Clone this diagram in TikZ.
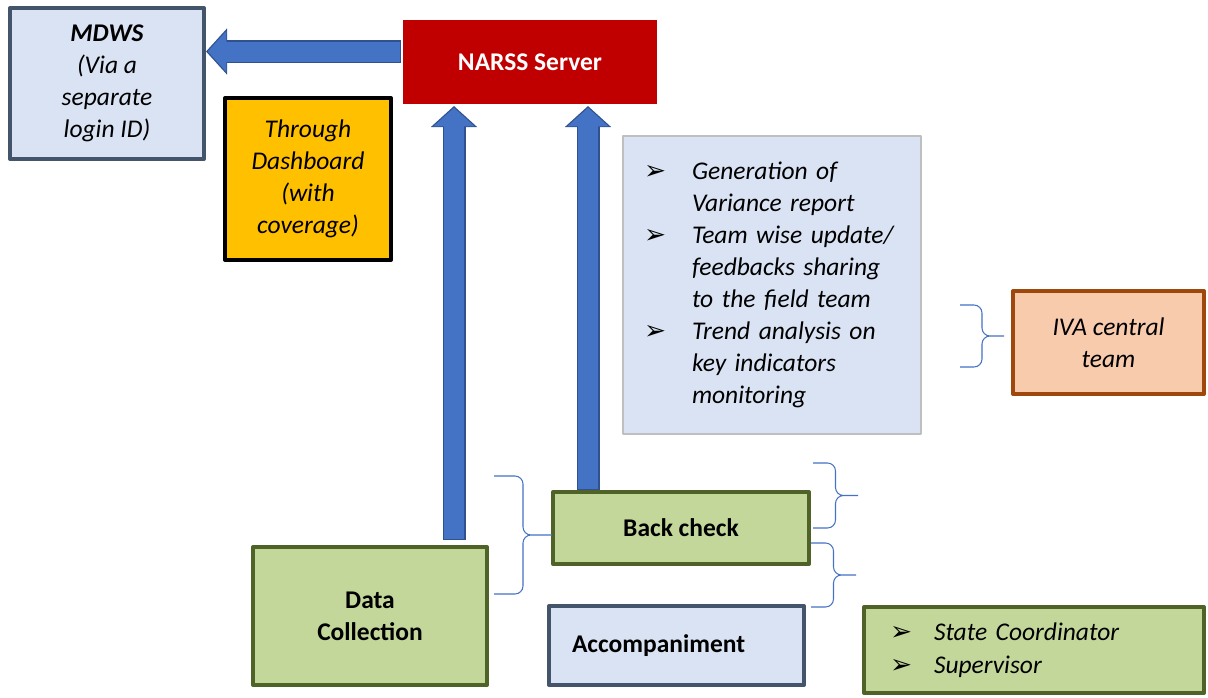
\documentclass[tikz,border=0pt]{standalone}
\usepackage{fontspec}
\setmainfont{Carlito}
\newfontfamily\symfont{DejaVu Sans}
\usetikzlibrary{arrows.meta}
\definecolor{arrowblue}{HTML}{4472C4}
\definecolor{arrowedge}{HTML}{2F528F}
\definecolor{paleblue}{HTML}{DAE3F3}
\definecolor{slate}{HTML}{44546A}
\definecolor{gold}{HTML}{FFC000}
\definecolor{serverred}{HTML}{C00000}
\definecolor{leaf}{HTML}{C4D79B}
\definecolor{olive}{HTML}{4F6228}
\definecolor{peach}{HTML}{F8CBAD}
\definecolor{rust}{HTML}{9E480E}
\definecolor{panelgrey}{HTML}{BFBFBF}
\newcommand\arrbul[1][9.6mm]{\makebox[#1][l]{\symfont\fontsize{15}{12}\selectfont ➢}}
\begin{document}
\begin{tikzpicture}[x=0.2mm, y=-0.2mm, font=\fontsize{14.5}{18.2}\selectfont, line join=round,
  box/.style={draw, line width=0.8mm, inner sep=0pt, align=center},
  bigarrow/.style={draw=arrowedge, line width=4.6mm, -{Triangle[width=9mm,length=4.2mm]},
    postaction={draw=arrowblue, line width=4mm, -{Triangle[width=8mm,length=3.7mm]}, shorten >=0.35mm, shorten <=0.3mm}},
  bracket/.style={draw=arrowblue, line width=0.6pt, rounded corners=1.6mm}]
\useasboundingbox (0,0) rectangle (1208,698);
\node[box, draw=slate, fill=paleblue, minimum width=38.8mm, minimum height=30.2mm] (mdws) at (107,83.5)
  {\textbf{\textit{MDWS}}\\ \textit{(Via a}\\ \textit{separate}\\ \textit{login ID)}};
\node[box, draw=black, fill=gold, minimum width=33.2mm, minimum height=32.4mm] (dash) at (308,179)
  {\textit{Through}\\ \textit{Dashboard}\\ \textit{(with}\\ \textit{coverage)}};
\node[box, draw=none, fill=serverred, text=white, font=\fontsize{14.5}{18.2}\selectfont\bfseries,
  minimum width=50.8mm, minimum height=16.8mm] (narss) at (530,62) {NARSS Server};
\node[box, draw=panelgrey, line width=0.4mm, fill=paleblue, minimum width=59.6mm, minimum height=59.6mm,
  text width=51.2mm, inner xsep=4.2mm, align=left, font=\fontsize{14.5}{18.2}\selectfont\itshape] (panel) at (772,285)
  {\arrbul Generation of\\ \hspace*{9.6mm}Variance report\\
   \arrbul Team wise update/\\ \hspace*{9.6mm}feedbacks sharing\\ \hspace*{9.6mm}to the field team\\
   \arrbul Trend analysis on\\ \hspace*{9.6mm}key indicators\\ \hspace*{9.6mm}monitoring};
\node[box, draw=rust, fill=peach, minimum width=38.2mm, minimum height=20.6mm] (iva) at (1108.5,342.5)
  {\textit{IVA central}\\ \textit{team}};
\node[box, draw=olive, fill=leaf, font=\fontsize{14.5}{18.2}\selectfont\bfseries,
  minimum width=51.2mm, minimum height=14.4mm] (bcheck) at (681,528) {Back check};
\node[box, draw=olive, fill=leaf, font=\fontsize{14.5}{18.2}\selectfont\bfseries,
  minimum width=46.8mm, minimum height=27.6mm] (datac) at (370,616) {Data\\ Collection};
\node[box, draw=slate, fill=paleblue, font=\fontsize{14.5}{18.2}\selectfont\bfseries, align=left,
  text width=41.8mm, inner xsep=4.6mm, minimum height=15.8mm] (accomp) at (676.5,645.5) {Accompaniment};
\node[box, draw=olive, fill=leaf, align=left, text width=57.6mm, inner xsep=5.2mm, minimum height=17.2mm,
  font=\fontsize{14.5}{18.8}\selectfont\itshape] (roles) at (1034,650)
  {\arrbul[8.8mm]State Coordinator\\ \arrbul[8.8mm]Supervisor};
\draw[bigarrow] ([yshift=2.1mm]narss.west) -- ([yshift=2.1mm]narss.west -| mdws.east);
\draw[bigarrow] ([xshift=16.8mm,yshift=1mm]datac.north) -- ([xshift=16.8mm]datac.north |- narss.south);
\draw[bigarrow] ([xshift=-18.6mm]bcheck.north) -- ([xshift=-18.6mm]bcheck.north |- narss.south);
\foreach \x/\ya/\yb/\a in {494/476/594/58, 813/463/528/45, 811/543/607/45, 960/305/367/44}
  \draw[bracket] (\x,\ya) -- ({\x+\a/2},\ya) -- ({\x+\a/2},{(\ya+\yb)/2}) -- ({\x+\a},{(\ya+\yb)/2})
    (\x,\yb) -- ({\x+\a/2},\yb) -- ({\x+\a/2},{(\ya+\yb)/2}) -- ({\x+\a},{(\ya+\yb)/2});
\end{tikzpicture}
\end{document}
